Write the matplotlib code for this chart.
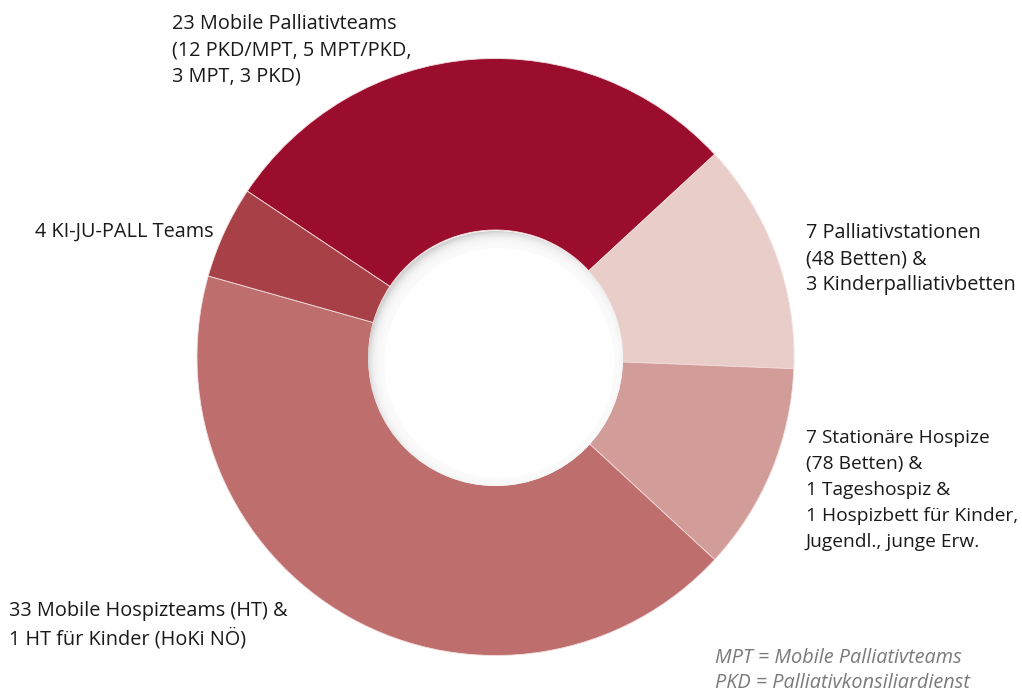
import matplotlib.pyplot as plt
from matplotlib.patches import Circle

plt.rcParams['font.family'] = ['Open Sans', 'DejaVu Sans']

# Data (order clockwise starting from the top-left)
labels = [
    "23 Mobile Palliativteams\n(12 PKD/MPT, 5 MPT/PKD,\n3 MPT, 3 PKD)",
    "7 Palliativstationen\n(48 Betten) &\n3 Kinderpalliativbetten",
    "7 Stationäre Hospize\n(78 Betten) &\n1 Tageshospiz &\n1 Hospizbett für Kinder,\nJugendl., junge Erw.",
    "33 Mobile Hospizteams (HT) &\n1 HT für Kinder (HoKi NÖ)",
    "4 KI-JU-PALL Teams",
]
values = [23, 10, 9, 34, 4]
colors = ['#9b0d2c', '#e9cdc9', '#d29c98', '#bf6e6e', '#a84048']
footnote = "MPT = Mobile Palliativteams\nPKD = Palliativkonsiliardienst"

W, H = 1022, 695
fig = plt.figure(figsize=(W / 100, H / 100), dpi=100)
ax = fig.add_axes([0, 0, 1, 1])

cx, cy = 495.5, H - 357
r_out, r_in = 298.5, 127

ax.pie(values, colors=colors, startangle=146.25, counterclock=False,
       radius=r_out, center=(cx, cy),
       wedgeprops=dict(width=r_out - r_in, edgecolor='#f2dede', linewidth=0.6))

# hole with a soft inner shadow towards the top-left
hole = Circle((cx, cy - 1.5), r_in + 0.5, facecolor='#d2d2d2', edgecolor='none', zorder=3)
ax.add_patch(hole)
for i in range(16):
    c = Circle((cx + 4, cy - 6), r_in + 4 - i * 1.0, facecolor='white',
               edgecolor='none', alpha=0.2, zorder=4)
    c.set_clip_path(hole)
    ax.add_patch(c)
core = Circle((cx + 4, cy - 6), r_in - 12, facecolor='white', edgecolor='none', zorder=5)
core.set_clip_path(hole)
ax.add_patch(core)

ax.set_xlim(0, W)
ax.set_ylim(0, H)
ax.set_aspect('auto')
ax.axis('off')

txt = dict(color='#1a1a1a', va='top')
ax.text(172, H - 14, labels[0], ha='left', fontsize=14.3, linespacing=1.41, **txt)
ax.text(806, H - 223, labels[1], ha='left', fontsize=14.3, linespacing=1.41, **txt)
ax.text(806, H - 429, labels[2], ha='left', fontsize=13.8, linespacing=1.57, **txt)
ax.text(9, H - 601, labels[3], ha='left', fontsize=14.3, linespacing=1.41, **txt)
ax.text(214, H - 222, labels[4], ha='right', fontsize=14.3, linespacing=1.41, **txt)
ax.text(715, H - 648, footnote, ha='left', fontsize=14.3, color='#7a7a7a',
        style='italic', linespacing=1.36, va='top')

fig.savefig('out.png', dpi=100, facecolor='white')
